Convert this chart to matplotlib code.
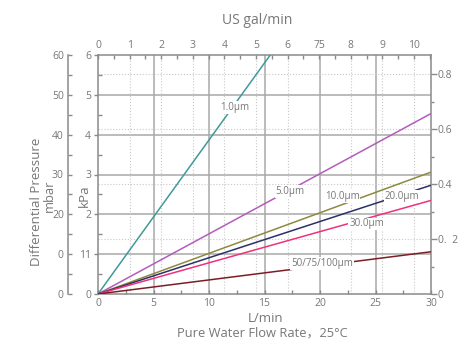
import matplotlib
matplotlib.use("Agg")
import matplotlib.pyplot as plt
from matplotlib.ticker import MultipleLocator, FixedLocator

plt.rcParams['font.family'] = ['Open Sans', 'Noto Sans CJK SC', 'DejaVu Sans']

# data: pressure drop (kPa) read at 30 L/min, lines start at the origin
series = ['1.0\u03bcm', '5.0\u03bcm', '10.0\u03bcm', '20.0\u03bcm', '30.0\u03bcm', '50/75/100\u03bcm']
flow = [0, 30]
kpa_at_30 = [11.6, 4.53, 3.06, 2.73, 2.35, 1.06]
colors = ['#3e9a9b', '#b45cbb', '#8c8a3e', '#2c3068', '#f0307c', '#7c1d25']
label_pos = [(12.3, 4.68), (17.3, 2.57), (22.0, 2.44), (27.4, 2.44), (24.2, 1.76), (20.2, 0.76)]

# axis scales (tick labels copied as printed on the chart)
kpa_ticks = [0, 1, 2, 3, 4, 5, 6]
kpa_labels = ['0', '11', '2', '3', '4', '5', '6']
mbar_ticks = [0, 10, 20, 30, 40, 50, 60]
mbar_labels = ['0', '0', '20', '30', '40', '50', '60']
gal_ticks = [0, 1, 2, 3, 4, 5, 6, 7, 8, 9, 10]
gal_labels = ['0', '1', '2', '3', '4', '5', '6', '75', '8', '9', '10']
gal_max = 10.54
psi_ticks = [0, 0.2, 0.4, 0.6, 0.8]
psi_labels = ['0', '0.  2', '0.4', '0.6', '0.8']
psi_per_kpa = 0.145038

W, H = 469, 342
TXT = '#777777'
SP = '#8a8a8a'

fig = plt.figure(figsize=(W / 100, H / 100), dpi=100)
ax = fig.add_axes([98 / W, (H - 294) / H, 333 / W, 239 / H])
ax.set_xlim(0, 30)
ax.set_ylim(0, 6)

# grid: solid on L/min and kPa, dotted on gal and psi
for x in [5, 10, 15, 20, 25]:
    ax.axvline(x, color='#a8a8a8', lw=1.1, zorder=1)
for y in kpa_ticks[1:-1]:
    ax.axhline(y, color='#a8a8a8', lw=1.1, zorder=1)
for g in gal_ticks[1:]:
    ax.axvline(g * 30 / gal_max, color='#c8c8c8', lw=0.8, ls=':', zorder=1)
for p in psi_ticks[1:]:
    ax.axhline(p / psi_per_kpa, color='#c8c8c8', lw=0.8, ls=':', zorder=1)

for name, p30, c, (lx, ly) in zip(series, kpa_at_30, colors, label_pos):
    ax.plot(flow, [0, p30], color=c, lw=1.1, zorder=3)
    ax.text(lx, ly, name, fontsize=7, color=TXT, ha='center', va='center', zorder=4,
            bbox=dict(facecolor='white', edgecolor='none', pad=0.6))

for s in ax.spines.values():
    s.set_color(SP)
    s.set_linewidth(1.1)

ax.yaxis.set_major_locator(FixedLocator(kpa_ticks))
ax.set_yticklabels(kpa_labels)
ax.yaxis.set_minor_locator(MultipleLocator(0.5))
ax.xaxis.set_major_locator(MultipleLocator(5))
ax.xaxis.set_minor_locator(MultipleLocator(2.5))
ax.tick_params(axis='y', which='major', direction='out', length=3, width=1, color=SP,
               labelsize=7.5, labelcolor=TXT, pad=2)
ax.tick_params(axis='y', which='minor', direction='in', length=3, width=1, color=SP)
ax.tick_params(axis='x', which='both', direction='in', length=3, width=1, color=SP,
               labelsize=7.5, labelcolor=TXT, pad=3)

# top axis: US gal/min
ax_top = ax.twiny()
ax_top.set_xlim(0, gal_max)
ax_top.xaxis.set_major_locator(FixedLocator(gal_ticks))
ax_top.set_xticklabels(gal_labels)
ax_top.xaxis.set_minor_locator(MultipleLocator(0.5))
ax_top.tick_params(axis='x', which='both', direction='in', length=3, width=1, color=SP,
                   labelsize=7.5, labelcolor=TXT, pad=3)
for s in ax_top.spines.values():
    s.set_visible(False)

# right axis: psi
ax_r = ax.twinx()
ax_r.set_ylim(0, 6 * psi_per_kpa)
ax_r.yaxis.set_major_locator(FixedLocator(psi_ticks))
ax_r.set_yticklabels(psi_labels)
ax_r.yaxis.set_minor_locator(MultipleLocator(0.1))
ax_r.tick_params(axis='y', which='major', direction='out', length=4, width=1, color=SP,
                 labelsize=7.5, labelcolor=TXT, pad=1)
ax_r.tick_params(axis='y', which='minor', direction='out', length=2.5, width=1, color=SP)
for s in ax_r.spines.values():
    s.set_visible(False)

# outer left axis: mbar
ax_m = ax.twinx()
ax_m.set_ylim(0, 60)
ax_m.yaxis.set_ticks_position('left')
ax_m.yaxis.set_label_position('left')
for k, s in ax_m.spines.items():
    s.set_visible(k == 'left')
ax_m.spines['left'].set_position(('outward', 21.6))
ax_m.spines['left'].set_color(SP)
ax_m.spines['left'].set_linewidth(1.1)
ax_m.yaxis.set_major_locator(FixedLocator(mbar_ticks))
ax_m.set_yticklabels(mbar_labels)
ax_m.yaxis.set_minor_locator(MultipleLocator(5))
ax_m.tick_params(axis='y', which='both', direction='in', length=3, width=1, color=SP,
                 labelsize=7.5, labelcolor=TXT, pad=3)

# titles and axis labels
fig.text(257 / W, 1 - 20 / H, 'US gal/min', fontsize=10, color=TXT, ha='center', va='center')
fig.text(266 / W, 1 - 318 / H, 'L/min', fontsize=9.5, color=TXT, ha='center', va='center')
fig.text(262 / W, 1 - 333 / H, 'Pure Water Flow Rate\uff0c25\u00b0C', fontsize=9.3, color=TXT,
         ha='center', va='center')
fig.text(36 / W, 1 - 202 / H, 'Differential Pressure', fontsize=9.6, color=TXT, rotation=90,
         ha='center', va='center')
fig.text(49 / W, 1 - 196 / H, 'mbar', fontsize=9.3, color=TXT, rotation=90, ha='center', va='center')
fig.text(84 / W, 1 - 196 / H, 'kPa', fontsize=9.6, color=TXT, rotation=90, ha='center', va='center')

fig.savefig('out.png', dpi=100)
